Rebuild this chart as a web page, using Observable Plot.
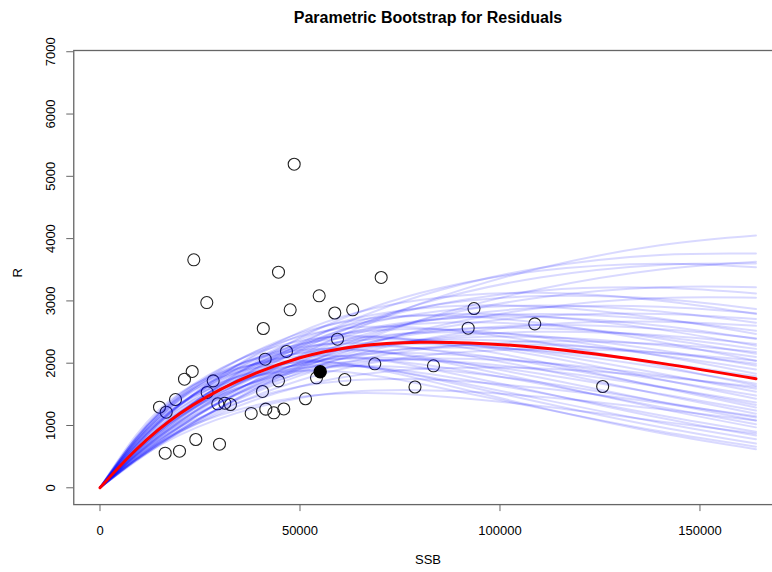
<!DOCTYPE html>
<html><head><meta charset="utf-8">
<script src="https://cdn.jsdelivr.net/npm/d3@7"></script>
<script src="https://cdn.jsdelivr.net/npm/@observablehq/plot@0.6"></script>
<style>
body{margin:0;background:#fff;font-family:"Liberation Sans",Arial,Helvetica,sans-serif;}
#title{position:relative;height:30px;width:772px;}
#title span{position:absolute;left:428px;top:10px;transform:translateX(-50%);font-weight:bold;font-size:16px;line-height:16px;white-space:nowrap;color:#000;}
</style></head><body>
<div id="title"><span>Parametric Bootstrap for Residuals</span></div>
<div id="chart"></div>
<script>
// observed stock–recruit pairs
const ssb = [48550, 23450, 44625, 26700, 54800, 70300, 47550, 58700, 63175, 93500, 108700, 92050, 40825, 59375, 46625, 41300, 23050, 21125, 28300, 44625, 68700, 83375, 61200, 54125, 78750, 125675, 18875, 14875, 16550, 26800, 40625, 29450, 31200, 32625, 37800, 41450, 43450, 45950, 51375, 23950, 29875, 16300, 19875];
const rec = [5194, 3660, 3461, 2974, 3082, 3376, 2857, 2806, 2857, 2878, 2632, 2562, 2557, 2385, 2188, 2064, 1867, 1743, 1717, 1717, 1990, 1958, 1738, 1766, 1618, 1626, 1417, 1294, 1213, 1530, 1546, 1348, 1358, 1337, 1193, 1262, 1204, 1265, 1429, 775, 700, 555, 587];
// highlighted (filled) point
const lastSSB = [55050];
const lastRec = [1862];
// fitted curve (red)
const fitSSB = [0, 20000, 50000, 80000, 110000, 140000, 164000];
const fitRec = [0, 1193, 2088, 2337, 2248, 2001, 1750];
// bootstrap curves (blue), values at bootSSB
const bootSSB = [0, 20000, 50000, 80000, 110000, 140000, 164000];
const bootRec = [
  [0, 978, 2126, 2954, 3525, 3894, 4050],
  [0, 1109, 2310, 3080, 3529, 3738, 3760],
  [0, 902, 1946, 2690, 3192, 3506, 3630],
  [0, 1062, 2213, 2949, 3377, 3578, 3600],
  [0, 1187, 2409, 3127, 3484, 3596, 3540],
  [0, 978, 2026, 2685, 3055, 3218, 3220],
  [0, 1134, 2262, 2886, 3165, 3211, 3120],
  [0, 920, 1908, 2531, 2886, 3045, 3050],
  [0, 1209, 2338, 2895, 3077, 3030, 2870],
  [0, 1068, 2109, 2664, 2893, 2905, 2800],
  [0, 1325, 2499, 3015, 3129, 3003, 2790],
  [0, 987, 1969, 2512, 2752, 2791, 2710],
  [0, 1205, 2295, 2795, 2925, 2831, 2650],
  [0, 926, 1854, 2377, 2617, 2665, 2600],
  [0, 1155, 2195, 2669, 2790, 2699, 2520],
  [0, 1335, 2451, 2879, 2909, 2717, 2470],
  [0, 1050, 2017, 2475, 2610, 2549, 2400],
  [0, 1207, 2251, 2681, 2743, 2601, 2390],
  [0, 1003, 1929, 2372, 2504, 2449, 2310],
  [0, 1316, 2385, 2765, 2754, 2539, 2280],
  [0, 1127, 2098, 2501, 2560, 2425, 2230],
  [0, 934, 1800, 2220, 2351, 2307, 2180],
  [0, 1266, 2282, 2634, 2614, 2397, 2150],
  [0, 1072, 1992, 2367, 2421, 2288, 2100],
  [0, 1427, 2483, 2765, 2646, 2341, 2040],
  [0, 1018, 1892, 2248, 2295, 2169, 1990],
  [0, 1225, 2184, 2489, 2437, 2209, 1960],
  [0, 1145, 2057, 2363, 2331, 2129, 1900],
  [0, 1342, 2314, 2550, 2417, 2119, 1830],
  [0, 1089, 1952, 2239, 2203, 2009, 1790],
  [0, 1206, 2086, 2307, 2192, 1929, 1670],
  [0, 1470, 2430, 2571, 2336, 1963, 1640],
  [0, 1038, 1833, 2071, 2010, 1805, 1590],
  [0, 1340, 2228, 2370, 2169, 1835, 1540],
  [0, 1176, 1994, 2159, 2012, 1735, 1480],
  [0, 1422, 2301, 2379, 2118, 1741, 1430],
  [0, 1136, 1908, 2050, 1893, 1617, 1370],
  [0, 1342, 2167, 2234, 1980, 1625, 1330],
  [0, 1506, 2357, 2358, 2028, 1615, 1290],
  [0, 1226, 1986, 2059, 1832, 1509, 1240],
  [0, 1455, 2255, 2234, 1902, 1499, 1190],
  [0, 1163, 1869, 1919, 1693, 1383, 1130],
  [0, 1410, 2157, 2106, 1769, 1377, 1080],
  [0, 1327, 2027, 1984, 1668, 1299, 1020],
  [0, 1496, 2209, 2085, 1693, 1271, 970],
  [0, 1281, 1923, 1846, 1524, 1165, 900],
  [0, 1465, 2109, 1940, 1535, 1125, 840],
  [0, 1368, 1967, 1807, 1427, 1045, 780],
  [0, 1444, 2013, 1793, 1374, 975, 710],
  [0, 1348, 1877, 1671, 1279, 906, 660],
  [0, 1525, 2042, 1748, 1288, 878, 620],
  [0, 849, 1443, 1566, 1463, 1263, 1080],
  [0, 889, 1627, 1905, 1915, 1783, 1620],
  [0, 910, 1457, 1491, 1311, 1066, 870],
  [0, 902, 1727, 2115, 2226, 2167, 2040],
  [0, 972, 1627, 1741, 1600, 1361, 1150]
];
const xTicks = [0, 50000, 100000, 150000];
const yTicks = [0, 1000, 2000, 3000, 4000, 5000, 6000, 7000];
const xLabel = "SSB";
const yLabel = "R";

const obs = ssb.map((s, i) => ({ssb: s, rec: rec[i]}));
const last = lastSSB.map((s, i) => ({ssb: s, rec: lastRec[i]}));
const fit = fitSSB.map((s, i) => ({ssb: s, rec: fitRec[i]}));
const boot = bootRec.flatMap((curve, k) => curve.map((r, i) => ({id: k, ssb: bootSSB[i], rec: r})));

const font = '"Liberation Sans", Arial, Helvetica, sans-serif';
const chart = Plot.plot({
  width: 772,
  height: 542,
  marginLeft: 73.26,
  marginRight: -9.7,
  marginTop: 20,
  marginBottom: 67.9,
  style: {fontFamily: font, fontSize: "13px", color: "#000", background: "#fff", overflow: "hidden"},
  x: {domain: [-6560, 170560]},
  y: {domain: [-270, 7020]},
  marks: [
    Plot.dot(obs, {x: "ssb", y: "rec", r: 6, stroke: "#222", strokeWidth: 1.1, fill: "none"}),
    Plot.line(boot, {x: "ssb", y: "rec", z: "id", stroke: "#0000ff", strokeOpacity: 0.15, strokeWidth: 2, curve: "natural"}),
    Plot.line(fit, {x: "ssb", y: "rec", stroke: "#ff0000", strokeWidth: 3, curve: "natural"}),
    Plot.dot(last, {x: "ssb", y: "rec", r: 6, fill: "#000", stroke: "#000"}),
    Plot.frame({stroke: "#666", strokeWidth: 1.3}),
    Plot.axisX({ticks: xTicks, tickSize: 7, tickPadding: 14, tickFormat: d => String(d), label: null, stroke: "#666", fontSize: 13}),
    Plot.axisY({ticks: yTicks, tickSize: 7, tickPadding: 11.6, tickRotate: -90, textAnchor: "middle", lineAnchor: "bottom", tickFormat: d => String(d), label: null, stroke: "#666", fontSize: 13}),
    Plot.text([xLabel], {frameAnchor: "bottom", dy: 59, fontSize: 13, fill: "#000"}),
    Plot.text([yLabel], {frameAnchor: "left", dx: -56, rotate: -90, fontSize: 13, fill: "#000"})
  ]
});
document.getElementById("chart").appendChild(chart);
</script>
</body></html>
